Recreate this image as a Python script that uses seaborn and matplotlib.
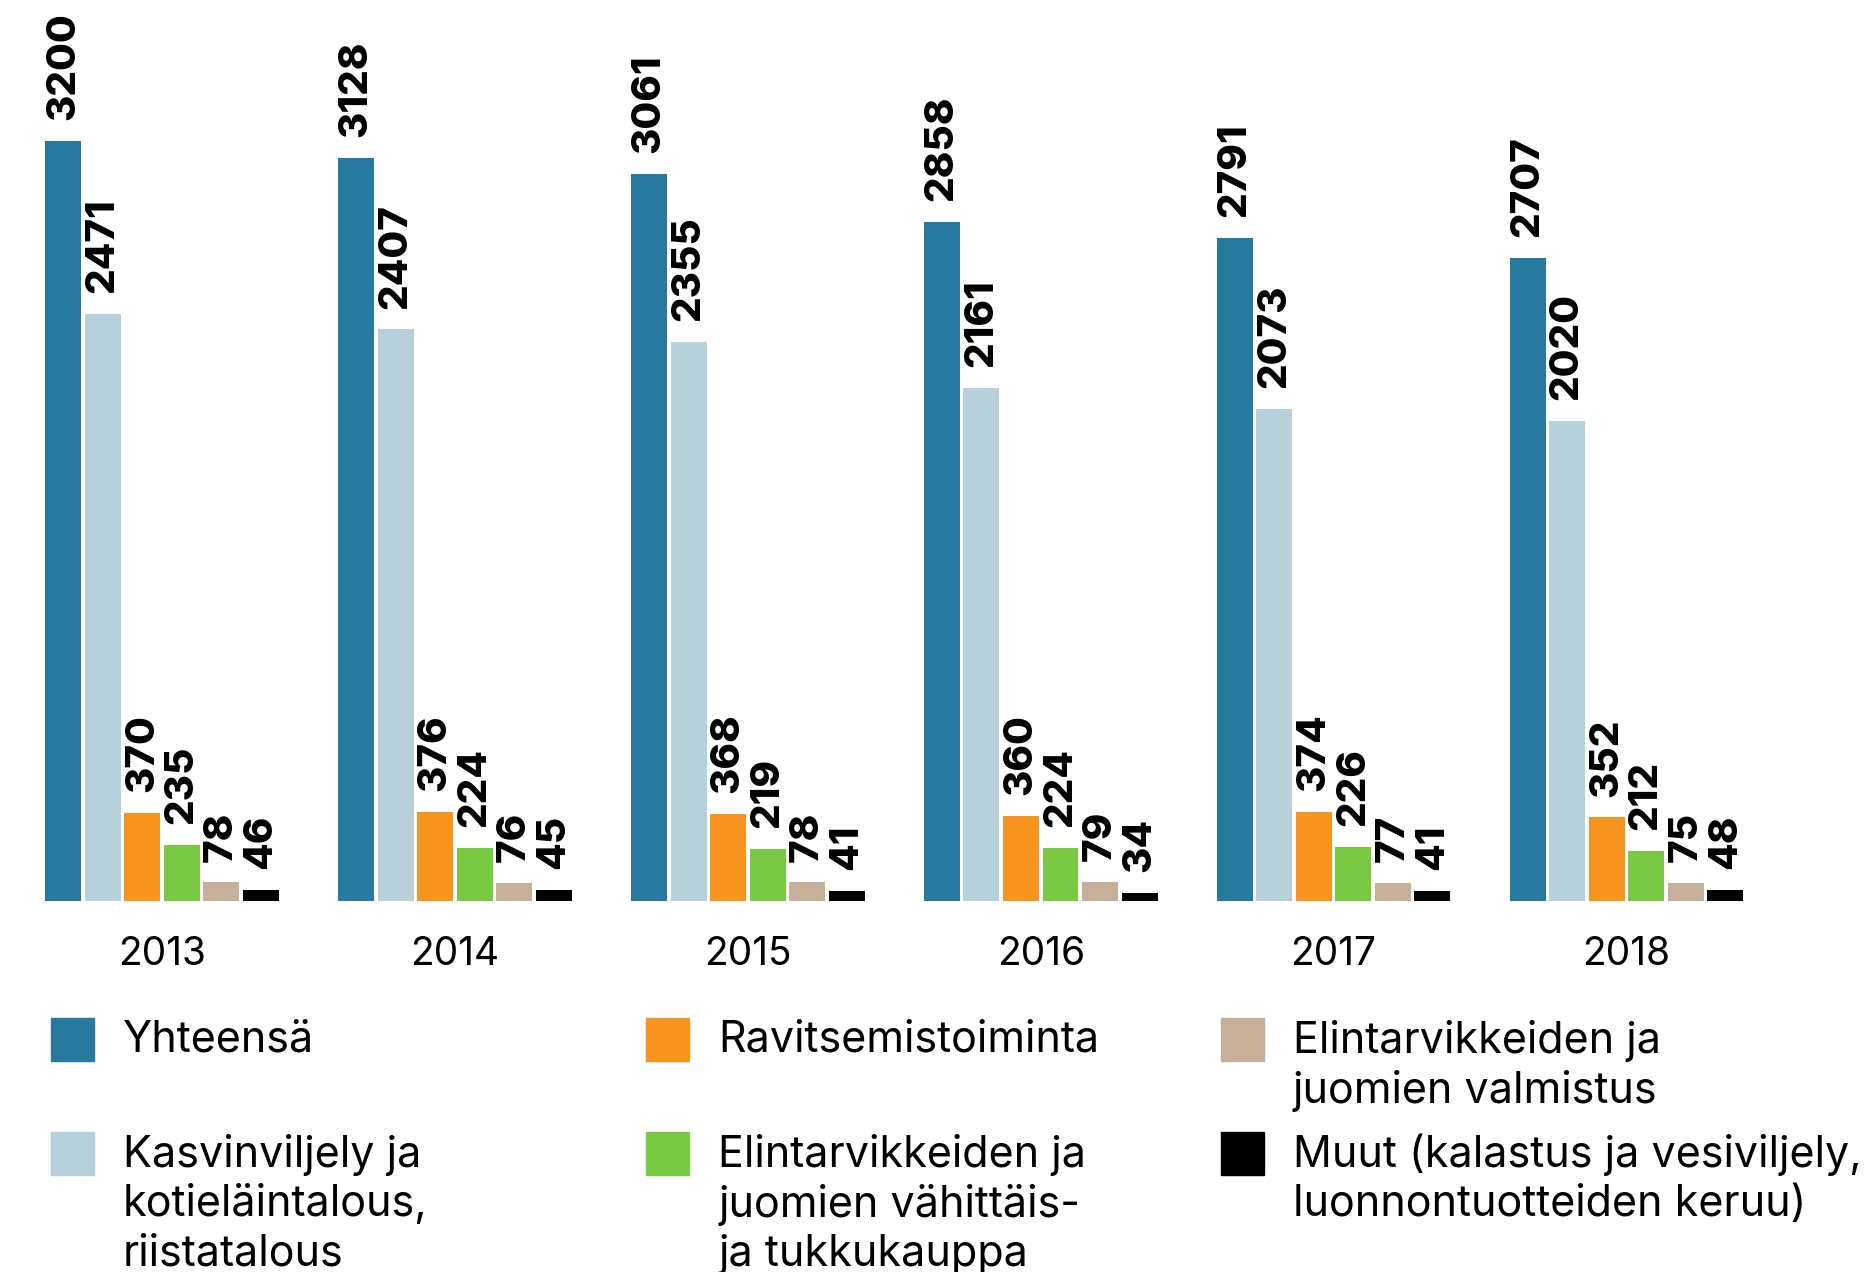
import pandas as pd
import matplotlib.pyplot as plt
import seaborn as sns
from matplotlib.patches import Rectangle

years = ["2013", "2014", "2015", "2016", "2017", "2018"]
series = [
    "Yhteensä",
    "Kasvinviljely ja\nkotieläintalous,\nriistatalous",
    "Ravitsemistoiminta",
    "Elintarvikkeiden ja\njuomien vähittäis-\nja tukkukauppa",
    "Elintarvikkeiden ja\njuomien valmistus",
    "Muut (kalastus ja vesiviljely,\nluonnontuotteiden keruu)",
]
yhteensa = [3200, 3128, 3061, 2858, 2791, 2707]
kasvinviljely = [2471, 2407, 2355, 2161, 2073, 2020]
ravitsemis = [370, 376, 368, 360, 374, 352]
kauppa = [235, 224, 219, 224, 226, 212]
valmistus = [78, 76, 78, 79, 77, 75]
muut = [46, 45, 41, 34, 41, 48]
colors = ["#2779a0", "#b7d1da", "#f7941f", "#7ac943", "#c6b09a", "#000000"]

values = [yhteensa, kasvinviljely, ravitsemis, kauppa, valmistus, muut]
rows = []
for s, vals in zip(series, values):
    for y, v in zip(years, vals):
        rows.append({"year": y, "series": s, "value": v})
df = pd.DataFrame(rows)

sns.set_style("white")
plt.rcParams["font.family"] = ["Inter", "DejaVu Sans"]
plt.rcParams["text.color"] = "black"
plt.rcParams["xtick.color"] = "black"

W, H = 1876, 1272
fig = plt.figure(figsize=(W / 100, H / 100), dpi=100)
ax = fig.add_axes([15.7 / W, 371 / H, 1757.2 / W, 807.5 / H])

sns.barplot(
    data=df, x="year", y="value", hue="series", hue_order=series,
    palette=dict(zip(series, colors)), saturation=1, width=0.81, gap=0.09,
    linewidth=0, legend=False, ax=ax
)

for cont in ax.containers:
    ax.bar_label(cont, rotation=90, padding=15, fontsize=29, color="black",
                 fontweight="heavy", clip_on=False)

ax.set_xlim(-0.5, 5.5)
ax.set_ylim(0, 3400)
ax.set_xlabel("")
ax.set_ylabel("")
ax.set_yticks([])
ax.tick_params(axis="x", length=0, pad=25, labelsize=28, labelcolor="black")
sns.despine(ax=ax, left=True, bottom=True)

# legend drawn by hand, 3 columns x 2 rows, column-major
col_box = [51, 646, 1221]
col_txt = [123, 718, 1293]
row_top = [1018, 1132]
for i, (name, c) in enumerate(zip(series, colors)):
    col, row = i // 2, i % 2
    fig.add_artist(Rectangle((col_box[col] / W, 1 - (row_top[row] + 43) / H),
                             43 / W, 43 / H, color=c, transform=fig.transFigure))
    fig.text(col_txt[col] / W, 1 - (row_top[row] + 2) / H, name, fontsize=31,
             va="top", ha="left", linespacing=1.25, color="black")

fig.savefig("out.png", dpi=100)
